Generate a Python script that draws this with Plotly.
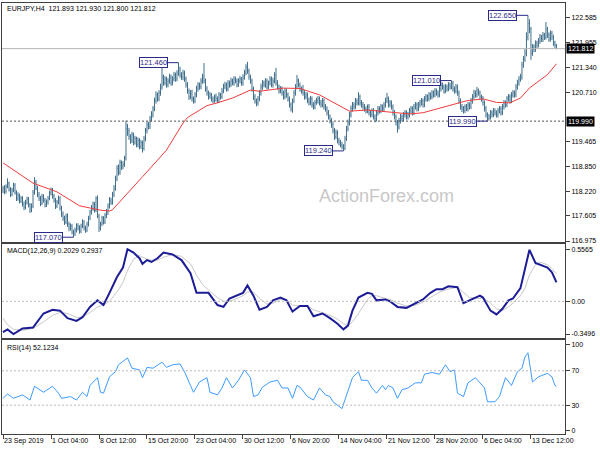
import plotly.graph_objects as go
from datetime import datetime, timedelta

# ---------------- data ----------------
opens = [
118.25,118.30,118.22,118.35,118.42,118.28,118.15,118.25,118.38,118.20,
118.05,118.12,117.98,118.05,117.90,117.82,117.95,118.02,117.88,117.75,
117.85,118.20,118.45,118.30,118.15,118.05,117.92,118.10,118.00,117.88,
117.95,118.05,118.18,118.25,118.10,118.00,117.85,117.95,118.05,117.80,
117.65,117.55,117.45,117.60,117.40,117.30,117.35,117.20,117.15,117.25,
117.35,117.30,117.22,117.35,117.45,117.30,117.25,117.40,117.55,117.70,
117.80,117.90,117.75,118.05,117.60,117.30,117.40,117.55,117.45,117.62,
117.70,117.85,118.00,117.95,118.15,118.30,118.55,118.80,118.70,118.95,
118.85,118.90,119.05,119.80,119.75,119.60,119.50,119.65,119.45,119.55,
119.40,119.50,119.35,119.45,119.30,119.55,119.75,119.90,119.85,120.05,
120.15,120.30,120.50,120.65,120.55,120.70,120.85,121.10,120.95,121.05,
120.90,121.00,121.10,120.95,121.05,121.15,121.05,121.20,121.30,121.15,
121.10,121.20,121.05,120.90,120.75,120.60,120.70,120.55,120.50,120.65,
120.80,120.90,120.85,121.00,121.10,121.00,120.80,120.70,120.60,120.65,
120.55,120.50,120.60,120.55,120.50,120.65,120.60,120.75,120.85,120.90,
120.80,120.95,120.90,121.00,120.95,121.05,121.00,120.90,121.00,121.05,
120.95,121.10,121.20,121.35,121.25,121.10,121.00,120.80,120.60,120.50,
120.45,120.55,120.70,120.85,120.95,120.90,121.00,120.85,120.95,121.05,
120.90,121.00,121.15,120.95,120.85,120.75,120.80,120.70,120.60,120.75,
120.65,120.55,120.40,120.30,120.50,120.70,120.85,121.00,120.90,120.80,
120.75,120.70,120.60,120.65,120.50,120.45,120.55,120.40,120.35,120.45,
120.50,120.55,120.45,120.40,120.50,120.35,120.30,120.20,120.10,120.00,
119.90,119.75,119.60,119.70,119.50,119.45,119.40,119.35,119.30,119.55,
119.80,119.95,120.15,120.30,120.40,120.35,120.50,120.45,120.60,120.45,
120.40,120.35,120.30,120.25,120.35,120.20,120.15,120.25,120.10,120.05,
120.20,120.30,120.25,120.35,120.30,120.40,120.50,120.55,120.40,120.45,
120.35,120.20,120.10,119.95,119.85,120.00,120.10,120.05,120.15,120.20,
120.10,120.15,120.25,120.30,120.20,120.35,120.40,120.30,120.40,120.45,
120.50,120.40,120.55,120.60,120.55,120.65,120.60,120.70,120.65,120.75,
120.70,120.65,120.80,120.90,120.85,120.75,120.85,120.80,120.90,120.85,
120.95,120.80,120.75,120.85,120.70,120.50,120.35,120.30,120.25,120.35,
120.30,120.40,120.35,120.50,120.60,120.70,120.65,120.75,120.70,120.60,
120.55,120.45,120.30,120.15,120.05,120.10,120.20,120.15,120.25,120.20,
120.15,120.25,120.30,120.20,120.35,120.45,120.40,120.55,120.60,120.50,
120.65,120.70,120.65,120.85,120.95,121.05,121.10,121.40,121.55,121.70,
122.10,122.45,122.30,121.70,121.85,121.80,121.95,121.90,122.00,122.10,
122.05,122.15,122.10,122.30,122.15,122.05,122.20,122.10,121.95,121.893]

highs = [
118.36,118.38,118.40,118.55,118.47,118.33,118.31,118.44,118.43,118.25,
118.20,118.17,118.11,118.10,117.97,118.01,118.09,118.08,117.93,117.92,
118.26,118.58,118.51,118.36,118.21,118.11,118.16,118.15,118.06,118.02,
118.11,118.24,118.32,118.31,118.16,118.06,118.01,118.12,118.10,117.86,
117.72,117.61,117.66,117.67,117.46,117.42,117.40,117.26,117.31,117.42,
117.42,117.37,117.41,117.52,117.50,117.36,117.46,117.61,117.76,117.88,
117.97,117.96,118.10,118.12,117.66,117.46,117.61,117.60,117.68,117.78,
117.92,118.08,118.06,118.21,118.38,118.62,118.88,118.90,119.02,119.00,
118.98,119.12,120.00,119.92,119.82,119.66,119.72,119.70,119.62,119.60,
119.58,119.56,119.52,119.50,119.62,119.82,119.98,119.97,120.12,120.24,
120.37,120.58,120.74,120.71,120.77,120.93,121.40,121.16,121.12,121.11,
121.07,121.18,121.16,121.12,121.23,121.21,121.27,121.46,121.36,121.22,
121.28,121.26,121.11,120.97,120.81,120.77,120.78,120.61,120.72,120.88,
120.97,120.96,121.07,121.18,121.45,121.06,120.87,120.76,120.72,120.70,
120.61,120.66,120.68,120.61,120.72,120.70,120.82,120.93,120.98,120.96,
121.02,121.01,121.08,121.06,121.12,121.11,121.06,121.07,121.13,121.10,
121.17,121.28,121.42,121.48,121.31,121.16,121.06,120.86,120.67,120.56,
120.62,120.77,120.93,121.02,121.01,121.07,121.06,121.01,121.12,121.11,
121.08,121.22,121.33,121.02,120.91,120.87,120.86,120.76,120.82,120.81,
120.71,120.61,120.46,120.56,120.77,120.92,121.15,121.06,120.96,120.86,
120.90,120.77,120.72,120.71,120.58,120.62,120.61,120.47,120.52,120.58,
120.62,120.61,120.52,120.57,120.56,120.42,120.36,120.27,120.16,120.07,
119.98,119.82,119.78,119.76,119.57,119.52,119.47,119.41,119.62,119.87,
120.03,120.22,120.38,120.47,120.46,120.57,120.56,120.72,120.66,120.52,
120.47,120.42,120.36,120.41,120.42,120.27,120.31,120.32,120.16,120.27,
120.37,120.36,120.42,120.41,120.47,120.58,120.70,120.61,120.52,120.51,
120.41,120.27,120.16,120.02,120.07,120.17,120.16,120.22,120.27,120.26,
120.22,120.32,120.37,120.36,120.42,120.47,120.46,120.47,120.52,120.57,
120.56,120.62,120.67,120.66,120.72,120.71,120.77,120.76,120.82,120.81,
120.76,120.87,120.98,120.96,120.91,120.92,120.91,120.97,120.96,121.01,
121.00,120.86,120.92,120.91,120.76,120.56,120.42,120.37,120.41,120.42,
120.47,120.46,120.57,120.67,120.78,120.76,120.85,120.81,120.76,120.66,
120.62,120.51,120.37,120.21,120.17,120.27,120.26,120.32,120.31,120.26,
120.32,120.37,120.36,120.42,120.52,120.51,120.62,120.67,120.66,120.72,
120.77,120.76,120.92,121.03,121.12,121.18,121.48,121.63,121.80,122.22,
122.65,122.55,122.36,121.93,121.92,122.02,122.01,122.08,122.18,122.16,
122.23,122.21,122.48,122.36,122.22,122.27,122.26,122.16,122.01,121.930]

lows = [
118.18,118.15,118.17,118.30,118.22,118.08,118.10,118.20,118.14,117.98,
117.99,117.92,117.93,117.84,117.75,117.77,117.89,117.82,117.68,117.70,
117.80,118.14,118.25,118.08,117.98,117.85,117.88,117.94,117.82,117.83,
117.89,118.00,118.12,118.04,117.94,117.78,117.80,117.90,117.74,117.58,
117.48,117.38,117.40,117.33,117.22,117.24,117.14,117.07,117.10,117.19,
117.24,117.16,117.17,117.30,117.24,117.18,117.20,117.34,117.50,117.64,
117.73,117.69,117.70,117.55,117.20,117.24,117.35,117.39,117.40,117.55,
117.63,117.79,117.88,117.89,118.08,118.24,118.48,118.62,118.64,118.76,
118.78,118.84,119.00,119.62,119.52,119.42,119.44,119.38,119.40,119.33,
119.33,119.28,119.29,119.20,119.25,119.48,119.68,119.78,119.79,119.98,
120.08,120.24,120.43,120.48,120.49,120.63,120.78,120.88,120.89,120.83,
120.84,120.93,120.88,120.89,120.99,120.98,120.99,121.13,121.08,121.03,
121.02,120.98,120.83,120.68,120.52,120.54,120.48,120.43,120.44,120.59,
120.73,120.78,120.79,120.93,120.94,120.73,120.63,120.53,120.55,120.48,
120.44,120.45,120.48,120.44,120.45,120.53,120.55,120.69,120.79,120.73,
120.74,120.83,120.85,120.89,120.88,120.94,120.84,120.85,120.94,120.88,
120.88,121.03,121.14,121.18,121.03,120.93,120.73,120.52,120.43,120.36,
120.38,120.49,120.63,120.78,120.84,120.83,120.78,120.79,120.89,120.84,
120.83,120.94,120.88,120.78,120.68,120.69,120.63,120.53,120.54,120.58,
120.48,120.33,120.23,120.20,120.44,120.63,120.79,120.84,120.73,120.68,
120.63,120.53,120.54,120.44,120.38,120.39,120.33,120.28,120.29,120.40,
120.43,120.38,120.33,120.34,120.28,120.23,120.13,120.03,119.93,119.82,
119.68,119.52,119.54,119.43,119.38,119.33,119.28,119.24,119.26,119.49,
119.73,119.88,120.08,120.23,120.28,120.29,120.38,120.39,120.38,120.33,
120.28,120.23,120.18,120.19,120.13,120.08,120.09,120.03,119.96,119.98,
120.13,120.18,120.19,120.23,120.24,120.33,120.44,120.33,120.34,120.28,
120.13,120.03,119.88,119.70,119.78,119.93,119.98,119.99,120.08,120.03,
120.03,120.08,120.18,120.13,120.14,120.28,120.23,120.24,120.33,120.38,
120.33,120.34,120.48,120.48,120.49,120.53,120.54,120.58,120.59,120.63,
120.58,120.59,120.73,120.78,120.68,120.69,120.73,120.74,120.78,120.79,
120.73,120.68,120.69,120.63,120.43,120.28,120.22,120.18,120.19,120.24,
120.23,120.28,120.29,120.43,120.53,120.58,120.58,120.63,120.53,120.48,
120.38,120.23,120.08,119.99,120.00,120.03,120.08,120.09,120.13,120.08,
120.08,120.18,120.13,120.14,120.28,120.33,120.34,120.48,120.43,120.44,
120.58,120.58,120.59,120.78,120.88,120.98,121.03,121.33,121.48,121.62,
122.02,122.20,121.53,121.63,121.72,121.73,121.83,121.84,121.93,121.98,
121.98,122.03,122.04,122.08,121.98,121.99,122.03,121.88,121.83,121.800]

closes = [
118.30,118.22,118.35,118.42,118.28,118.15,118.25,118.38,118.20,118.05,
118.12,117.98,118.05,117.90,117.82,117.95,118.02,117.88,117.75,117.85,
118.20,118.45,118.30,118.15,118.05,117.92,118.10,118.00,117.88,117.95,
118.05,118.18,118.25,118.10,118.00,117.85,117.95,118.05,117.80,117.65,
117.55,117.45,117.60,117.40,117.30,117.35,117.20,117.15,117.25,117.35,
117.30,117.22,117.35,117.45,117.30,117.25,117.40,117.55,117.70,117.80,
117.90,117.75,118.05,117.60,117.30,117.40,117.55,117.45,117.62,117.70,
117.85,118.00,117.95,118.15,118.30,118.55,118.80,118.70,118.95,118.85,
118.90,119.05,119.80,119.75,119.60,119.50,119.65,119.45,119.55,119.40,
119.50,119.35,119.45,119.30,119.55,119.75,119.90,119.85,120.05,120.15,
120.30,120.50,120.65,120.55,120.70,120.85,121.10,120.95,121.05,120.90,
121.00,121.10,120.95,121.05,121.15,121.05,121.20,121.30,121.15,121.10,
121.20,121.05,120.90,120.75,120.60,120.70,120.55,120.50,120.65,120.80,
120.90,120.85,121.00,121.10,121.00,120.80,120.70,120.60,120.65,120.55,
120.50,120.60,120.55,120.50,120.65,120.60,120.75,120.85,120.90,120.80,
120.95,120.90,121.00,120.95,121.05,121.00,120.90,121.00,121.05,120.95,
121.10,121.20,121.35,121.25,121.10,121.00,120.80,120.60,120.50,120.45,
120.55,120.70,120.85,120.95,120.90,121.00,120.85,120.95,121.05,120.90,
121.00,121.15,120.95,120.85,120.75,120.80,120.70,120.60,120.75,120.65,
120.55,120.40,120.30,120.50,120.70,120.85,121.00,120.90,120.80,120.75,
120.70,120.60,120.65,120.50,120.45,120.55,120.40,120.35,120.45,120.50,
120.55,120.45,120.40,120.50,120.35,120.30,120.20,120.10,120.00,119.90,
119.75,119.60,119.70,119.50,119.45,119.40,119.35,119.30,119.55,119.80,
119.95,120.15,120.30,120.40,120.35,120.50,120.45,120.60,120.45,120.40,
120.35,120.30,120.25,120.35,120.20,120.15,120.25,120.10,120.05,120.20,
120.30,120.25,120.35,120.30,120.40,120.50,120.55,120.40,120.45,120.35,
120.20,120.10,119.95,119.85,120.00,120.10,120.05,120.15,120.20,120.10,
120.15,120.25,120.30,120.20,120.35,120.40,120.30,120.40,120.45,120.50,
120.40,120.55,120.60,120.55,120.65,120.60,120.70,120.65,120.75,120.70,
120.65,120.80,120.90,120.85,120.75,120.85,120.80,120.90,120.85,120.95,
120.80,120.75,120.85,120.70,120.50,120.35,120.30,120.25,120.35,120.30,
120.40,120.35,120.50,120.60,120.70,120.65,120.75,120.70,120.60,120.55,
120.45,120.30,120.15,120.05,120.10,120.20,120.15,120.25,120.20,120.15,
120.25,120.30,120.20,120.35,120.45,120.40,120.55,120.60,120.50,120.65,
120.70,120.65,120.85,120.95,121.05,121.10,121.40,121.55,121.70,122.10,
122.45,122.30,121.70,121.85,121.80,121.95,121.90,122.00,122.10,122.05,
122.15,122.10,122.30,122.15,122.05,122.20,122.10,121.95,121.90,121.812]

# moving average (bar number, value)
ma_bar = [0, 20, 36, 51, 65, 71, 73, 87, 93, 109, 120, 123, 136, 143, 153, 165, 171, 187, 196,
          198, 211, 220, 231, 243, 260, 271, 280, 291, 303, 309, 320, 329, 338, 345, 351, 358, 363, 369]
ma_val = [118.94, 118.43, 118.21, 117.86, 117.75, 117.73, 117.76, 118.33, 118.59, 119.26, 119.94, 120.08,
          120.38, 120.45, 120.57, 120.77, 120.74, 120.82, 120.81, 120.81, 120.65, 120.47, 120.24, 120.27,
          120.22, 120.17, 120.20, 120.32, 120.45, 120.50, 120.55, 120.46, 120.45, 120.57, 120.82, 121.02,
          121.16, 121.43]

# MACD main / signal (bar number, value)
macd_bar = [0, 3, 7, 13, 20, 27, 33, 38, 43, 49, 53, 58, 63, 67, 71, 76, 80, 83, 87, 91, 93, 96, 99,
            103, 107, 113, 119, 125, 129, 133, 137, 143, 147, 151, 156, 160, 163, 167, 171, 176, 180,
            185, 189, 193, 198, 203, 207, 213, 218, 223, 227, 230, 233, 237, 243, 246, 249, 255, 258,
            263, 269, 275, 280, 285, 289, 293, 297, 303, 307, 311, 318, 320, 325, 329, 333, 337, 340,
            345, 348, 351, 355, 358, 363, 366, 369]
macd_val = [-0.33, -0.30, -0.3496, -0.29, -0.28, -0.13, -0.09, -0.10, -0.18, -0.21, -0.17, -0.06, 0.01,
            -0.04, 0.09, 0.26, 0.36, 0.5565, 0.52, 0.46, 0.40, 0.44, 0.42, 0.46, 0.52, 0.50, 0.44, 0.30,
            0.09, 0.09, 0.09, -0.04, -0.06, 0.03, 0.06, 0.09, 0.17, 0.06, -0.09, -0.06, 0.01, 0.04, 0.01,
            -0.11, -0.05, -0.05, -0.16, -0.13, -0.18, -0.24, -0.30, -0.26, -0.10, 0.04, 0.09, 0.08, 0.01,
            0.02, 0.00, -0.06, -0.07, -0.02, 0.02, 0.09, 0.13, 0.13, 0.16, 0.15, -0.02, 0.01, 0.06, 0.04,
            -0.10, -0.14, -0.08, 0.01, 0.03, 0.14, 0.33, 0.55, 0.41, 0.39, 0.36, 0.31, 0.2029]
signal_val = [-0.18, -0.25, -0.30, -0.31, -0.29, -0.22, -0.15, -0.12, -0.13, -0.17, -0.17, -0.12, -0.06,
              -0.04, 0.00, 0.10, 0.20, 0.33, 0.45, 0.49, 0.47, 0.45, 0.44, 0.44, 0.47, 0.50, 0.48, 0.40,
              0.28, 0.18, 0.12, 0.04, 0.00, 0.00, 0.03, 0.06, 0.10, 0.10, 0.03, -0.03, -0.02, 0.02, 0.02,
              -0.04, -0.05, -0.05, -0.09, -0.12, -0.15, -0.19, -0.24, -0.26, -0.22, -0.13, 0.02, 0.06,
              0.06, 0.03, 0.02, -0.02, -0.05, -0.04, -0.01, 0.04, 0.08, 0.11, 0.13, 0.15, 0.09, 0.04,
              0.03, 0.04, -0.02, -0.08, -0.10, -0.06, -0.02, 0.06, 0.14, 0.28, 0.39, 0.42, 0.39, 0.35,
              0.2937]

# RSI(14) (bar number, value)
rsi_bar = [0, 3, 7, 10, 13, 18, 21, 27, 33, 37, 39, 45, 49, 53, 56, 58, 63, 65, 67, 71, 75, 77, 83,
           86, 91, 93, 96, 100, 106, 109, 113, 118, 121, 125, 127, 131, 136, 138, 143, 146, 149, 153,
           157, 161, 165, 167, 170, 173, 178, 183, 186, 190, 193, 196, 198, 203, 207, 211, 215, 218,
           220, 226, 229, 231, 233, 237, 239, 243, 246, 249, 253, 255, 257, 260, 263, 266, 270, 275,
           279, 281, 286, 291, 295, 298, 301, 303, 307, 310, 315, 318, 321, 323, 328, 331, 335, 339,
           343, 346, 348, 350, 351, 353, 357, 363, 366, 368, 369]
rsi_val = [38, 43, 38, 40, 42, 36, 52, 45, 52, 44, 38, 40, 36, 45, 40, 53, 62, 45, 44, 63, 69, 77, 85,
           73, 71, 62, 74, 73, 80, 74, 77, 78, 69, 53, 45, 57, 62, 45, 42, 50, 62, 50, 59, 71, 62, 40,
           42, 51, 57, 59, 50, 50, 38, 53, 51, 40, 36, 50, 42, 40, 34, 26, 42, 50, 62, 69, 59, 59, 50,
           44, 53, 48, 53, 50, 38, 48, 50, 56, 56, 66, 68, 66, 77, 69, 71, 44, 40, 56, 62, 56, 50, 34,
           34, 40, 62, 53, 69, 73, 86, 91, 80, 57, 63, 67, 63, 53, 52.1234]
rsi_levels = [30, 70]

# marked highs / lows
mark_bar = [47, 117, 227, 299, 323, 350]
mark_price = [117.070, 121.460, 119.240, 121.010, 119.990, 122.650]

# axis ticks
price_ticks = [116.975, 117.605, 118.220, 118.850, 119.465, 120.710, 121.340, 121.955, 122.585]
macd_ticks = [0.5565, 0.0, -0.3496]
macd_tick_text = ["0.5565", "0.00", "-0.3496"]
rsi_ticks = [0, 30, 70, 100]
time_ticks = ["2019-09-23 20:00", "2019-10-01 04:00", "2019-10-08 12:00", "2019-10-15 20:00",
              "2019-10-23 04:00", "2019-10-30 12:00", "2019-11-06 20:00", "2019-11-14 04:00",
              "2019-11-21 12:00", "2019-11-28 20:00", "2019-12-06 04:00", "2019-12-13 12:00"]
time_tick_text = ["23 Sep 2019", "1 Oct 04:00", "8 Oct 12:00", "15 Oct 20:00", "23 Oct 04:00",
                  "30 Oct 12:00", "6 Nov 20:00", "14 Nov 04:00", "21 Nov 12:00", "28 Nov 20:00",
                  "6 Dec 04:00", "13 Dec 12:00"]
last_price = 121.812
level_price = 119.990

# H4 bar times (weekdays only)
bar_time = []
t = datetime(2019, 9, 23, 20)
while len(bar_time) < len(closes):
    if t.weekday() < 5:
        bar_time.append(t.strftime("%Y-%m-%d %H:%M"))
    t += timedelta(hours=4)

# ---------------- figure ----------------
FONT = "Liberation Sans"
BAR = "#3f6f8c"
FRAME = "#404040"
W, H = 600, 450

def py(px):  # pixel row -> paper fraction
    return 1 - px / H

fig = go.Figure()
fig.add_trace(go.Ohlc(x=bar_time, open=opens, high=highs, low=lows, close=closes,
                      increasing=dict(line=dict(color=BAR, width=1)),
                      decreasing=dict(line=dict(color=BAR, width=1)),
                      tickwidth=0.3, xaxis="x", yaxis="y", hoverinfo="skip"))
fig.add_trace(go.Scatter(x=[bar_time[i] for i in ma_bar], y=ma_val, mode="lines",
                         line=dict(color="#f03c3c", width=1), xaxis="x", yaxis="y"))
fig.add_trace(go.Scatter(x=[bar_time[i] for i in macd_bar], y=signal_val, mode="lines",
                         line=dict(color="#c8c8c8", width=1), xaxis="x2", yaxis="y2"))
fig.add_trace(go.Scatter(x=[bar_time[i] for i in macd_bar], y=macd_val, mode="lines",
                         line=dict(color="#1c1c96", width=2), xaxis="x2", yaxis="y2"))
fig.add_trace(go.Scatter(x=[bar_time[i] for i in rsi_bar], y=rsi_val, mode="lines",
                         line=dict(color="#3d9bff", width=1), xaxis="x3", yaxis="y3"))

xdom = [2 / W, 565 / W]
xrange = [-0.67, 374.7]
common_x = dict(domain=xdom, type="category", categoryorder="array", categoryarray=bar_time,
                range=xrange, showline=True, mirror=True, linecolor=FRAME, linewidth=1,
                showgrid=False, zeroline=False, fixedrange=True)
common_y = dict(side="right", showline=True, mirror=True, linecolor=FRAME, linewidth=1,
                showgrid=False, zeroline=False, ticks="outside", ticklen=4, tickcolor=FRAME,
                tickfont=dict(family=FONT, size=7, color="#000"), fixedrange=True)

fig.update_layout(
    width=W, height=H, margin=dict(l=0, r=0, t=0, b=0, autoexpand=False),
    paper_bgcolor="white", plot_bgcolor="white", showlegend=False,
    font=dict(family=FONT, size=7, color="#000"),
    xaxis=dict(**common_x, anchor="y", showticklabels=False, rangeslider=dict(visible=False)),
    xaxis2=dict(**common_x, anchor="y2", matches="x", showticklabels=False),
    xaxis3=dict(**common_x, anchor="y3", matches="x", tickmode="array", tickvals=time_ticks,
                ticktext=time_tick_text, ticks="outside", ticklen=4, tickcolor=FRAME,
                ticklabelposition="outside right", tickangle=0,
                tickfont=dict(family=FONT, size=7, color="#000")),
    yaxis=dict(**common_y, anchor="x", domain=[py(242), py(3)], range=[116.95, 122.96],
               tickmode="array", tickvals=price_ticks, ticktext=[f"{v:.3f}" for v in price_ticks]),
    yaxis2=dict(**common_y, anchor="x2", domain=[py(338), py(244)], range=[-0.392, 0.612],
                tickmode="array", tickvals=macd_ticks, ticktext=macd_tick_text),
    yaxis3=dict(**common_y, anchor="x3", domain=[py(434), py(340)], range=[-3.5, 105.8],
                tickmode="array", tickvals=rsi_ticks, ticktext=[str(v) for v in rsi_ticks]),
)

# reference lines
fig.add_shape(type="line", xref="x domain", yref="y", x0=0, x1=1, y0=last_price, y1=last_price,
              line=dict(color="#b4b4b4", width=1))
fig.add_shape(type="line", xref="x domain", yref="y", x0=0, x1=1, y0=level_price, y1=level_price,
              line=dict(color="#505050", width=1, dash="2px,2px"))
fig.add_shape(type="line", xref="x2 domain", yref="y2", x0=0, x1=1, y0=0, y1=0,
              line=dict(color="#b8b8b8", width=1, dash="2px,2px"))
for lv in rsi_levels:
    fig.add_shape(type="line", xref="x3 domain", yref="y3", x0=0, x1=1, y0=lv, y1=lv,
                  line=dict(color="#b8b8b8", width=1, dash="2px,2px"))

# price boxes on the right axis
for p in (last_price, level_price):
    fig.add_annotation(xref="paper", yref="y", x=566 / W, y=p, xanchor="left", yanchor="middle",
                       text=f"{p:.3f}", showarrow=False, bgcolor="#000000",
                       font=dict(family=FONT, size=7, color="#ffffff"), borderpad=1)

# high / low labels
for i, p in zip(mark_bar, mark_price):
    fig.add_annotation(xref="x", yref="y", x=bar_time[i], y=p, text=f"{p:.3f}",
                       showarrow=True, arrowhead=0, arrowwidth=1, arrowcolor="#2a2a8a",
                       ax=-25, ay=0, bgcolor="white", bordercolor="#2a2a8a", borderwidth=1,
                       borderpad=0, font=dict(family=FONT, size=7.5, color="#2a2a8a"))

# panel captions
fig.add_annotation(xref="paper", yref="paper", x=5 / W, y=py(8), xanchor="left", yanchor="middle",
                   text="EURJPY,H4  121.893 121.930 121.800 121.812", showarrow=False)
fig.add_annotation(xref="paper", yref="paper", x=5 / W, y=py(251), xanchor="left", yanchor="middle",
                   text="MACD(12,26,9) 0.2029 0.2937", showarrow=False)
fig.add_annotation(xref="paper", yref="paper", x=5 / W, y=py(348), xanchor="left", yanchor="middle",
                   text="RSI(14) 52.1234", showarrow=False)

# watermark
fig.add_annotation(xref="paper", yref="paper", x=386 / W, y=py(196), text="ActionForex.com",
                   showarrow=False, font=dict(family=FONT, size=18, color="#c8c8c8"))

fig.write_html("out.html", config={"displayModeBar": False},
               post_script="document.body.style.margin='0';document.body.style.overflow='hidden';")
